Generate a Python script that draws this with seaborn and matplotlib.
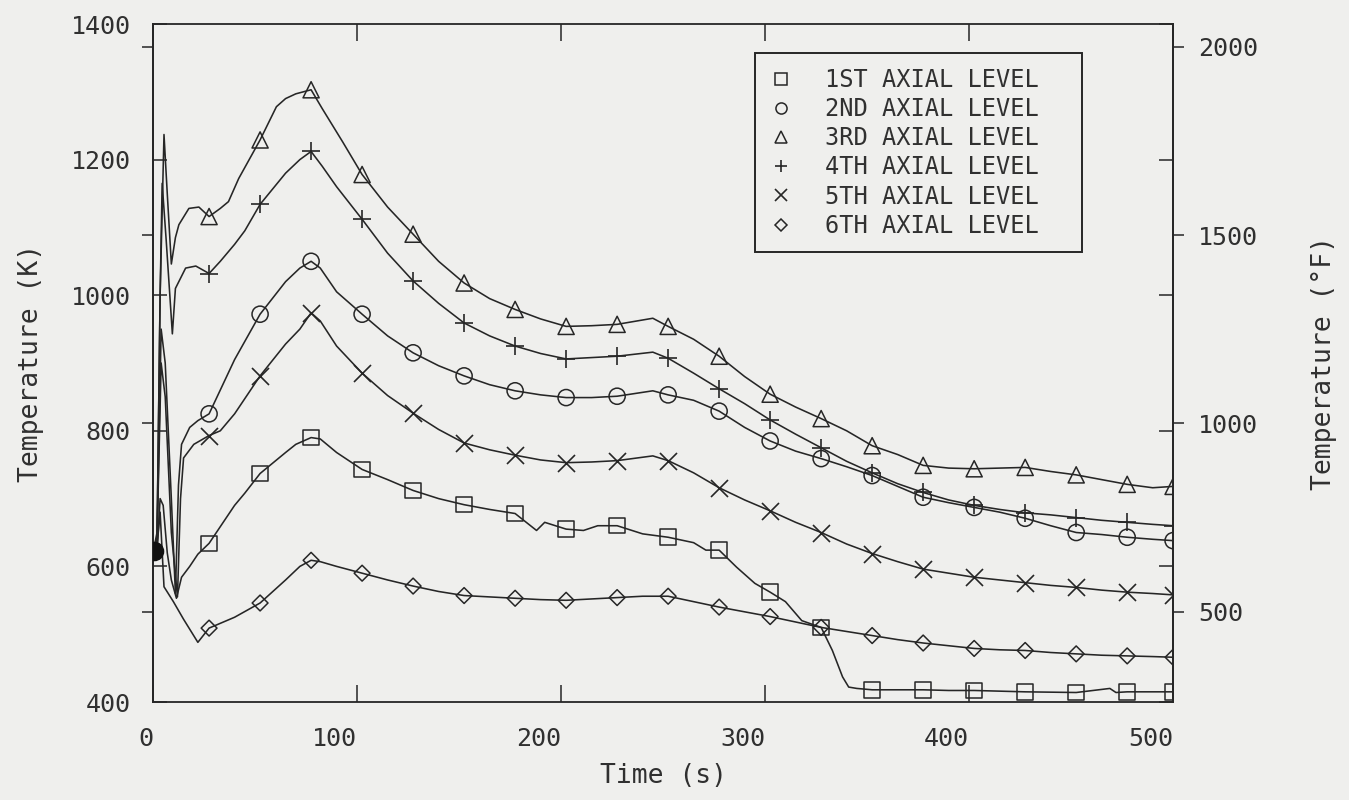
import matplotlib
matplotlib.use("Agg")
import matplotlib.pyplot as plt
from matplotlib.lines import Line2D
import numpy as np
import pandas as pd
import seaborn as sns

# ---------------- data ----------------
MARK_T = [27.5, 52.5, 77.5, 102.5, 127.5, 152.5, 177.5, 202.5, 227.5, 252.5,
          277.5, 302.5, 327.5, 352.5, 377.5, 402.5, 427.5, 452.5, 477.5, 500]

LEVELS = ["1ST AXIAL LEVEL", "2ND AXIAL LEVEL", "3RD AXIAL LEVEL",
          "4TH AXIAL LEVEL", "5TH AXIAL LEVEL", "6TH AXIAL LEVEL"]

# temperatures (K) at the marker times
MARK_L1 = [634, 737, 790, 743, 712, 691, 678, 655, 660, 643, 624, 562, 510, 418, 418, 417, 415, 414, 415, 415]
MARK_L2 = [825, 972, 1050, 972, 915, 881, 859, 849, 851, 853, 829, 785, 759, 734, 702, 687, 671, 650, 643, 638]
MARK_L3 = [1116, 1229, 1303, 1178, 1090, 1018, 979, 954, 957, 954, 910, 854, 818, 778, 749, 744, 746, 735, 721, 718]
MARK_L4 = [1032, 1134, 1212, 1112, 1021, 959, 925, 906, 910, 907, 862, 816, 775, 738, 709, 690, 679, 672, 665, 660]
MARK_L5 = [793, 881, 974, 885, 826, 782, 764, 753, 756, 756, 716, 682, 650, 619, 596, 584, 576, 569, 562, 558]
MARK_L6 = [509, 546, 609, 590, 571, 557, 553, 550, 554, 556, 540, 526, 510, 498, 487, 479, 476, 471, 468, 466]

# additional trace points between markers (time s, temperature K)
EXTRA_T1 = [0, 2, 3.5, 5, 7, 9, 11.5, 14, 18, 22, 40, 45, 65, 70, 82, 90, 115, 140, 165, 188, 192, 211, 218,
            240, 265, 271, 286, 295, 310, 318, 333, 338, 341, 345, 390, 469, 472]
EXTRA_K1 = [620, 622, 700, 690, 620, 580, 553, 584, 600, 618, 690, 708, 768, 780, 788, 768, 728, 700, 684, 653, 665, 653, 660,
            648, 635, 624, 599, 575, 548, 520, 476, 437, 422, 420, 417, 420, 414]

EXTRA_T2 = [0, 2, 4, 6, 9, 11, 12.5, 14, 18, 22, 40, 65, 72, 82, 90, 115, 140, 165, 190, 215, 245, 265, 290,
            315, 340, 365, 390, 415, 440, 465, 490]
EXTRA_K2 = [620, 640, 950, 900, 700, 560, 720, 780, 805, 815, 905, 1020, 1040, 1040, 1005, 940, 896, 868, 853, 849, 859, 845, 805,
            770, 747, 718, 694, 680, 660, 647, 640]

EXTRA_T3 = [0, 2, 3.5, 5.4, 7, 9, 11, 12.7, 17.6, 22.5, 33, 37, 42, 60.5, 65, 70, 83, 93, 115, 140, 165, 190, 215,
            245, 265, 290, 315, 340, 365, 390, 415, 440, 465, 490]
EXTRA_K3 = [620, 650, 1000, 1237, 1150, 1046, 1085, 1104, 1128, 1130, 1128, 1138, 1172, 1278, 1290, 1297, 1275, 1226, 1130, 1050, 995, 965, 955,
            966, 935, 880, 835, 800, 765, 745, 745, 740, 728, 716]

EXTRA_T4 = [0, 2, 3.5, 4.5, 6.5, 9.5, 11, 16, 21, 33, 40, 45, 65, 72, 83, 90, 115, 140, 165, 190, 215,
            245, 265, 290, 315, 340, 365, 390, 415, 440, 465, 490]
EXTRA_K4 = [620, 640, 1000, 1165, 1080, 943, 1010, 1040, 1043, 1050, 1075, 1095, 1180, 1200, 1190, 1160, 1062, 988, 940, 914, 908,
            916, 885, 840, 795, 755, 722, 698, 684, 676, 668, 662]

EXTRA_T5 = [0, 2, 4, 6, 9, 12, 13.5, 15, 20, 33, 40, 65, 72, 82, 90, 115, 140, 165, 190, 215,
            245, 265, 290, 315, 340, 365, 390, 415, 440, 465, 490]
EXTRA_K5 = [620, 640, 900, 850, 650, 555, 700, 760, 780, 800, 825, 928, 950, 962, 925, 852, 802, 772, 757, 754,
            763, 738, 698, 665, 633, 607, 590, 580, 572, 565, 560]

EXTRA_T6 = [0, 2, 3.5, 5.4, 10, 15, 22, 40, 65, 72, 82, 90, 115, 140, 165, 190, 215,
            240, 265, 290, 315, 340, 365, 390, 415, 440, 465, 490]
EXTRA_K6 = [620, 630, 680, 570, 548, 522, 488, 525, 580, 600, 607, 600, 580, 563, 555, 551, 552,
            556, 548, 533, 518, 504, 492, 483, 477, 473, 469, 467]

START_T = [0.5]
START_K = [622]

Y_TICKS_K = [400, 600, 800, 1000, 1200, 1400]
Y_TICKS_F = [500, 1000, 1500, 2000]
X_TICKS = [0, 100, 200, 300, 400, 500]

# ---------------- style ----------------
sns.set_theme(style="ticks")
plt.rcParams["font.family"] = ["DejaVu Sans Mono", "DejaVu Sans"]
INK = "#262626"
BG = "#efefed"
plt.rcParams["text.color"] = "#303030"
plt.rcParams["axes.labelcolor"] = "#303030"
plt.rcParams["xtick.color"] = INK
plt.rcParams["ytick.color"] = INK
plt.rcParams["xtick.labelcolor"] = "#303030"
plt.rcParams["ytick.labelcolor"] = "#303030"

fig = plt.figure(figsize=(13.49, 8), dpi=100, facecolor=BG)
ax = fig.add_axes([0.1134, 0.1225, 0.7562, 0.8475], facecolor=BG)

markers = ["s", "o", "^", "+", "x", "D"]
sizes = [125, 135, 135, 150, 150, 65]
series = [
    (EXTRA_T1, EXTRA_K1, MARK_L1),
    (EXTRA_T2, EXTRA_K2, MARK_L2),
    (EXTRA_T3, EXTRA_K3, MARK_L3),
    (EXTRA_T4, EXTRA_K4, MARK_L4),
    (EXTRA_T5, EXTRA_K5, MARK_L5),
    (EXTRA_T6, EXTRA_K6, MARK_L6),
]

for i, (et, ek, mk) in enumerate(series):
    df = pd.DataFrame({"t": list(et) + MARK_T, "K": list(ek) + mk})
    df = df.groupby("t", as_index=False).mean().sort_values("t")
    sns.lineplot(data=df, x="t", y="K", ax=ax, color=INK, lw=1.15,
                 estimator=None, sort=True, legend=False)
    dm = pd.DataFrame({"t": MARK_T, "K": mk})
    if markers[i] in ("+", "x"):
        sns.scatterplot(data=dm, x="t", y="K", ax=ax, marker=markers[i], s=sizes[i],
                        color=INK, linewidth=1.2, legend=False, zorder=4)
    else:
        sns.scatterplot(data=dm, x="t", y="K", ax=ax, marker=markers[i], s=sizes[i],
                        facecolor="none", edgecolor=INK, linewidth=1.1, legend=False, zorder=4)

sns.scatterplot(x=START_T, y=START_K, ax=ax, marker="o", s=170, color="#111111",
                edgecolor="#111111", legend=False, zorder=5)

# ---------------- axes ----------------
ax.set_xlim(0, 500)
ax.set_ylim(400, 1400)
ax.set_xticks(X_TICKS)
ax.set_yticks(Y_TICKS_K)
ax.tick_params(axis="x", direction="in", top=True, length=12, width=1.1, labelsize=18, pad=18)
ax.tick_params(axis="y", direction="in", right=True, length=10, width=1.1, labelsize=18, pad=16)
for lab in ax.get_xticklabels():
    lab.set_horizontalalignment("right")
for sp in ax.spines.values():
    sp.set_visible(True)
    sp.set_linewidth(1.3)
    sp.set_color(INK)

ax.set_xlabel("Time (s)", fontsize=19)
ax.set_ylabel("Temperature (K)", fontsize=19)
ax.xaxis.set_label_coords(0.5, -0.090)
ax.yaxis.set_label_coords(-0.107, 0.5)


def k2f(k):
    return np.asarray(k) * 1.8 - 459.67


def f2k(f):
    return (np.asarray(f) + 459.67) / 1.8


secR = ax.secondary_yaxis("right", functions=(k2f, f2k))
secR.set_yticks(Y_TICKS_F)
secR.tick_params(direction="out", length=8, width=1.1, labelsize=18, pad=10)
secR.spines["right"].set_linewidth(1.3)
secR.spines["right"].set_color(INK)
secR.set_ylabel("Temperature (\u00b0F)", fontsize=19, labelpad=38)

secL = ax.secondary_yaxis("left", functions=(k2f, f2k))
secL.set_yticks(Y_TICKS_F)
secL.set_yticklabels([])
secL.tick_params(direction="out", length=8, width=1.1)
secL.spines["left"].set_linewidth(1.3)
secL.spines["left"].set_color(INK)

# ---------------- legend ----------------
handles = []
for i, m in enumerate(markers):
    ms = 8 if m != "D" else 6
    if m in ("+", "x"):
        h = Line2D([], [], linestyle="none", marker=m, ms=9, color=INK, mew=1.2)
    else:
        h = Line2D([], [], linestyle="none", marker=m, ms=ms, mfc="none", mec=INK, mew=1.1)
    handles.append(h)
leg = ax.legend(handles, [s + "  " for s in LEVELS], loc="upper left", bbox_to_anchor=(0.590, 0.957),
                borderaxespad=0, frameon=True, fancybox=False, framealpha=1,
                facecolor=BG, edgecolor=INK, fontsize=17, handlelength=1.0,
                handletextpad=1.35, labelspacing=0.22, borderpad=0.62)
leg.get_frame().set_linewidth(1.4)

fig.savefig("out.png", dpi=100, facecolor=BG)
